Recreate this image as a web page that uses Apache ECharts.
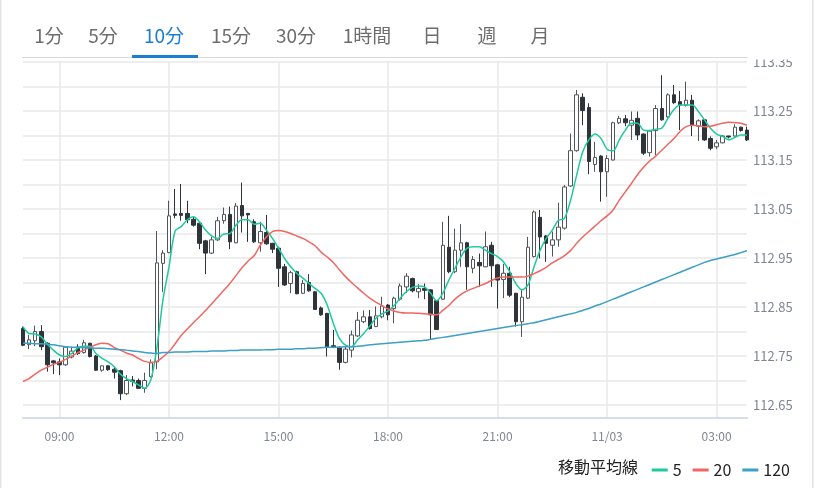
<!DOCTYPE html>
<html>
<head>
    <meta charset="utf-8">
    <title>USD/JPY 10分足</title>
    <script src="https://cdn.jsdelivr.net/npm/echarts@6/dist/echarts.min.js"></script>
    <style>
        html, body { margin: 0; padding: 0; background: #fff; }
        #main { width: 815px; height: 488px; }
    </style>
</head>
<body>
<div id="main"></div>
<script type="text/javascript">
    // 足の種類タブ
    var tabs = ['1分', '5分', '10分', '15分', '30分', '1時間', '日', '週', '月'];
    var tabX = [49, 103, 164, 231, 296, 367, 432, 487, 540];
    var activeTab = 2;

    // 10分足 120本 (11/02 08:00 〜 11/03 03:50)
    var opens = [
        112.806, 112.773, 112.781, 112.800, 112.776, 112.740, 112.738, 112.732, 112.748, 112.768,
        112.757, 112.776, 112.750, 112.721, 112.730, 112.723, 112.720, 112.673, 112.701, 112.700,
        112.684, 112.708, 112.738, 112.939, 112.961, 113.040, 113.041, 113.041, 113.029, 113.021,
        112.985, 112.960, 112.987, 113.026, 113.039, 112.981, 113.057, 113.041, 113.024, 112.981,
        113.002, 112.980, 112.970, 112.932, 112.898, 112.922, 112.878, 112.900, 112.881, 112.848,
        112.837, 112.771, 112.768, 112.737, 112.762, 112.791, 112.820, 112.830, 112.810, 112.830,
        112.854, 112.847, 112.866, 112.891, 112.908, 112.881, 112.888, 112.885, 112.863, 112.866,
        112.972, 112.922, 112.966, 112.981, 112.929, 112.941, 112.932, 112.976, 112.936, 112.906,
        112.919, 112.878, 112.820, 112.868, 112.953, 113.033, 112.995, 112.976, 112.987, 113.011,
        113.097, 113.169, 113.278, 113.257, 113.141, 113.158, 113.126, 113.150, 113.226, 113.234,
        113.221, 113.235, 113.203, 113.165, 113.210, 113.255, 113.238, 113.283, 113.269, 113.262,
        113.272, 113.219, 113.232, 113.194, 113.177, 113.185, 113.199, 113.199, 113.217, 113.211
    ];
    var closes = [
        112.772, 112.783, 112.800, 112.769, 112.732, 112.736, 112.732, 112.768, 112.760, 112.755,
        112.777, 112.749, 112.721, 112.730, 112.722, 112.717, 112.673, 112.700, 112.698, 112.684,
        112.700, 112.736, 112.940, 112.960, 113.036, 113.037, 113.037, 113.028, 113.017, 112.980,
        112.960, 112.987, 113.026, 113.039, 112.983, 113.056, 113.036, 113.038, 112.983, 113.004,
        112.979, 112.968, 112.929, 112.895, 112.920, 112.877, 112.898, 112.883, 112.845, 112.834,
        112.768, 112.768, 112.737, 112.764, 112.793, 112.823, 112.830, 112.806, 112.832, 112.852,
        112.834, 112.868, 112.893, 112.913, 112.883, 112.888, 112.884, 112.834, 112.804, 112.976,
        112.922, 112.966, 112.981, 112.932, 112.947, 112.934, 112.973, 112.934, 112.905, 112.919,
        112.874, 112.820, 112.870, 112.972, 113.044, 112.993, 112.980, 112.987, 113.013, 113.095,
        113.169, 113.283, 113.251, 113.147, 113.155, 113.126, 113.153, 113.226, 113.235, 113.226,
        113.231, 113.201, 113.164, 113.209, 113.255, 113.232, 113.283, 113.267, 113.262, 113.272,
        113.221, 113.230, 113.191, 113.174, 113.185, 113.199, 113.197, 113.217, 113.210, 113.191
    ];
    var lows = [
        112.770, 112.764, 112.770, 112.762, 112.718, 112.713, 112.711, 112.730, 112.745, 112.752,
        112.755, 112.747, 112.720, 112.718, 112.720, 112.704, 112.660, 112.670, 112.688, 112.683,
        112.675, 112.706, 112.723, 112.881, 112.960, 113.031, 113.026, 113.021, 113.014, 112.968,
        112.917, 112.958, 112.985, 113.020, 112.968, 112.980, 113.002, 112.983, 112.981, 112.963,
        112.977, 112.960, 112.891, 112.893, 112.878, 112.876, 112.877, 112.881, 112.844, 112.832,
        112.749, 112.766, 112.722, 112.735, 112.747, 112.789, 112.817, 112.804, 112.809, 112.827,
        112.823, 112.817, 112.863, 112.879, 112.880, 112.868, 112.866, 112.783, 112.803, 112.864,
        112.919, 112.919, 112.932, 112.885, 112.919, 112.891, 112.931, 112.891, 112.847, 112.868,
        112.870, 112.810, 112.789, 112.866, 112.951, 112.949, 112.942, 112.953, 112.973, 113.008,
        113.095, 113.167, 113.221, 113.121, 113.126, 113.065, 113.075, 113.149, 113.223, 113.219,
        113.191, 113.191, 113.160, 113.157, 113.160, 113.230, 113.235, 113.264, 113.211, 113.259,
        113.199, 113.189, 113.189, 113.170, 113.172, 113.184, 113.194, 113.198, 113.208, 113.189
    ];
    var highs = [
        112.810, 112.793, 112.812, 112.813, 112.778, 112.742, 112.745, 112.770, 112.769, 112.774,
        112.783, 112.777, 112.752, 112.730, 112.731, 112.728, 112.722, 112.711, 112.709, 112.704,
        112.716, 112.743, 113.005, 112.966, 113.067, 113.091, 113.101, 113.067, 113.034, 113.024,
        112.987, 112.993, 113.034, 113.053, 113.055, 113.062, 113.104, 113.041, 113.029, 113.024,
        113.038, 112.981, 112.973, 112.938, 112.924, 112.924, 112.905, 112.917, 112.883, 112.851,
        112.838, 112.803, 112.769, 112.769, 112.802, 112.840, 112.843, 112.844, 112.851, 112.871,
        112.856, 112.871, 112.898, 112.919, 112.910, 112.897, 112.898, 112.886, 112.864, 113.024,
        113.036, 113.010, 113.019, 112.983, 112.954, 112.959, 113.004, 112.983, 112.938, 112.938,
        112.932, 112.879, 112.885, 112.993, 113.047, 113.048, 112.997, 113.004, 113.063, 113.099,
        113.204, 113.293, 113.286, 113.266, 113.187, 113.160, 113.160, 113.228, 113.240, 113.242,
        113.249, 113.249, 113.204, 113.211, 113.262, 113.323, 113.286, 113.303, 113.291, 113.310,
        113.283, 113.233, 113.233, 113.198, 113.191, 113.201, 113.199, 113.223, 113.218, 113.218
    ];

    // 移動平均線
    var ma5 = [
        112.810, 112.796, 112.795, 112.789, 112.774, 112.762, 112.752, 112.749, 112.755, 112.766,
        112.770, 112.770, 112.755, 112.745, 112.738, 112.728, 112.713, 112.704, 112.698, 112.691,
        112.684, 112.701, 112.766, 112.864, 112.932, 113.005, 113.014, 113.028, 113.034, 113.024,
        113.007, 112.995, 112.990, 112.999, 113.000, 113.017, 113.028, 113.028, 113.019, 113.021,
        113.007, 112.990, 112.970, 112.949, 112.932, 112.919, 112.909, 112.898, 112.888, 112.878,
        112.854, 112.817, 112.786, 112.772, 112.769, 112.783, 112.796, 112.811, 112.827, 112.836,
        112.842, 112.853, 112.868, 112.881, 112.890, 112.893, 112.891, 112.878, 112.863, 112.878,
        112.905, 112.929, 112.953, 112.970, 112.973, 112.973, 112.966, 112.959, 112.953, 112.942,
        112.922, 112.898, 112.885, 112.895, 112.932, 112.966, 112.990, 113.007, 113.027, 113.031,
        113.068, 113.119, 113.167, 113.191, 113.203, 113.194, 113.172, 113.169, 113.191, 113.211,
        113.225, 113.225, 113.211, 113.210, 113.213, 113.215, 113.235, 113.253, 113.262, 113.262,
        113.262, 113.249, 113.232, 113.215, 113.203, 113.198, 113.191, 113.196, 113.201, 113.201
    ];
    var ma20 = [
        112.698, 112.704, 112.713, 112.721, 112.727, 112.733, 112.737, 112.743, 112.750, 112.757,
        112.762, 112.768, 112.773, 112.776, 112.775, 112.767, 112.762, 112.756, 112.752, 112.745,
        112.739, 112.737, 112.739, 112.748, 112.759, 112.775, 112.792, 112.805, 112.818, 112.830,
        112.843, 112.856, 112.870, 112.884, 112.898, 112.914, 112.930, 112.944, 112.955, 112.976,
        112.993, 113.004, 113.006, 113.004, 113.000, 112.995, 112.990, 112.983, 112.975, 112.962,
        112.952, 112.941, 112.926, 112.912, 112.900, 112.889, 112.878, 112.868, 112.860, 112.853,
        112.846, 112.842, 112.839, 112.838, 112.838, 112.837, 112.836, 112.835, 112.834, 112.843,
        112.853, 112.866, 112.876, 112.883, 112.888, 112.893, 112.898, 112.904, 112.909, 112.911,
        112.911, 112.911, 112.911, 112.913, 112.918, 112.924, 112.931, 112.940, 112.947, 112.955,
        112.965, 112.980, 112.993, 113.004, 113.015, 113.026, 113.036, 113.048, 113.068, 113.085,
        113.102, 113.120, 113.135, 113.148, 113.158, 113.170, 113.182, 113.194, 113.208, 113.218,
        113.221, 113.220, 113.218, 113.219, 113.222, 113.225, 113.227, 113.226, 113.225, 113.221
    ];
    var ma120 = [
        112.776, 112.776, 112.775, 112.775, 112.774, 112.773, 112.771, 112.769, 112.768, 112.768,
        112.767, 112.767, 112.766, 112.766, 112.765, 112.764, 112.763, 112.762, 112.760, 112.759,
        112.757, 112.756, 112.755, 112.757, 112.757, 112.758, 112.758, 112.758, 112.759, 112.759,
        112.759, 112.760, 112.760, 112.760, 112.761, 112.761, 112.762, 112.762, 112.762, 112.762,
        112.763, 112.763, 112.764, 112.764, 112.764, 112.765, 112.765, 112.766, 112.766, 112.767,
        112.768, 112.768, 112.768, 112.769, 112.769, 112.770, 112.771, 112.773, 112.774, 112.775,
        112.776, 112.777, 112.778, 112.779, 112.780, 112.781, 112.782, 112.784, 112.786, 112.788,
        112.790, 112.792, 112.794, 112.796, 112.798, 112.800, 112.802, 112.804, 112.806, 112.808,
        112.810, 112.812, 112.814, 112.816, 112.818, 112.821, 112.824, 112.827, 112.830, 112.833,
        112.836, 112.839, 112.843, 112.847, 112.852, 112.856, 112.861, 112.866, 112.871, 112.876,
        112.881, 112.886, 112.891, 112.896, 112.901, 112.906, 112.911, 112.916, 112.921, 112.926,
        112.931, 112.936, 112.941, 112.945, 112.948, 112.951, 112.954, 112.957, 112.961, 112.965
    ];

    // 時刻ラベル (08:00 から 10分刻み)
    var times = [];
    for (var i = 0; i < opens.length; i++) {
        var m = 8 * 60 + i * 10;
        var h = Math.floor(m / 60) % 24;
        var mm = m % 60;
        times.push((h < 10 ? '0' : '') + h + ':' + (mm < 10 ? '0' : '') + mm);
    }

    var candles = [];
    for (var j = 0; j < opens.length; j++) {
        candles.push([opens[j], closes[j], lows[j], highs[j]]);
    }

    var FONT = '"Noto Sans CJK JP", "Noto Sans", sans-serif';
    var AXIS_TEXT = '#7f8594';
    var GRID_LINE = '#e9e9e9';

    function hourTick(index) {
        return (index - 6) % 18 === 0;
    }

    // タブと凡例見出し
    var graphics = [
        { type: 'rect', z: 100, shape: { x: 0, y: 0, width: 815, height: 59.5 }, style: { fill: '#fff' } },
        { type: 'rect', z: 101, shape: { x: 22, y: 57, width: 726, height: 1 }, style: { fill: '#d9d9d9' } },
        { type: 'rect', z: 102, shape: { x: 132, y: 55, width: 66, height: 3 }, style: { fill: '#1a7fcf' } },
        { type: 'rect', z: 101, shape: { x: 0, y: 0, width: 1.5, height: 488 }, style: { fill: '#e2e2e2' } },
        { type: 'rect', z: 101, shape: { x: 812, y: 0, width: 1.5, height: 488 }, style: { fill: '#e2e2e2' } },
        {
            type: 'text', z: 101, x: 558, y: 467,
            style: { text: '移動平均線', fill: '#222', font: '16px ' + FONT, verticalAlign: 'middle' }
        }
    ];
    tabs.forEach(function (t, k) {
        graphics.push({
            type: 'text', z: 101, x: tabX[k], y: 36,
            style: {
                text: t, fill: k === activeTab ? '#1a7fcf' : '#6d6d6d',
                font: '19px ' + FONT, align: 'center', verticalAlign: 'middle'
            }
        });
    });

    var myChart = echarts.init(document.getElementById('main'));
    myChart.setOption({
        animation: false,
        backgroundColor: '#fff',
        textStyle: { fontFamily: FONT },
        graphic: graphics,
        legend: {
            right: 20,
            top: 457,
            data: ['5', '20', '120'],
            icon: 'rect',
            itemWidth: 16,
            itemHeight: 3,
            itemGap: 11,
            textStyle: { color: '#222', fontSize: 16, fontFamily: FONT }
        },
        grid: [
            { left: 23, right: 68, top: 62, height: 343 },
            { left: 23, right: 68, top: 62, bottom: 70 }
        ],
        xAxis: [
            {
                gridIndex: 0, type: 'category', data: times, boundaryGap: false, show: false
            },
            {
                gridIndex: 1, type: 'category', data: times, boundaryGap: false,
                axisLine: { lineStyle: { color: '#d6dce8', width: 2 } },
                axisTick: { show: false },
                axisLabel: {
                    interval: hourTick,
                    color: AXIS_TEXT, fontSize: 12, margin: 12, fontFamily: FONT,
                    formatter: function (v) { return v === '00:00' ? '11/03' : v; }
                },
                splitLine: { show: true, interval: hourTick, lineStyle: { color: GRID_LINE, width: 1.5 } }
            }
        ],
        yAxis: [
            {
                gridIndex: 0, type: 'value', position: 'right',
                min: 112.65, max: 113.35, interval: 0.05,
                axisLine: { show: false },
                axisTick: { show: false },
                axisLabel: {
                    color: AXIS_TEXT, fontSize: 13, margin: 6, fontFamily: FONT,
                    formatter: function (v) {
                        return Math.round(v * 100) % 10 === 5 ? v.toFixed(2) : '';
                    }
                },
                splitLine: { lineStyle: { color: GRID_LINE, width: 1.5 } }
            },
            {
                gridIndex: 1, type: 'value', show: false, min: 0, max: 1,
                splitLine: { show: false }
            }
        ],
        series: [
            {
                name: '10分足',
                type: 'candlestick',
                xAxisIndex: 0, yAxisIndex: 0,
                data: candles,
                barWidth: 4,
                itemStyle: {
                    color: '#ffffff',
                    borderColor: '#50555a',
                    color0: '#2e3439',
                    borderColor0: '#2e3439',
                    borderWidth: 1
                }
            },
            {
                name: '5', type: 'line', data: ma5, smooth: 0.3, symbol: 'none',
                xAxisIndex: 0, yAxisIndex: 0,
                lineStyle: { color: '#1ec9a0', width: 1.5 }, itemStyle: { color: '#1ec9a0' }
            },
            {
                name: '20', type: 'line', data: ma20, smooth: 0.3, symbol: 'none',
                xAxisIndex: 0, yAxisIndex: 0,
                lineStyle: { color: '#ef6662', width: 1.5 }, itemStyle: { color: '#ef6662' }
            },
            {
                name: '120', type: 'line', data: ma120, smooth: 0.3, symbol: 'none',
                xAxisIndex: 0, yAxisIndex: 0,
                lineStyle: { color: '#3c9fc4', width: 1.5 }, itemStyle: { color: '#3c9fc4' }
            }
        ]
    });
</script>
</body>
</html>
